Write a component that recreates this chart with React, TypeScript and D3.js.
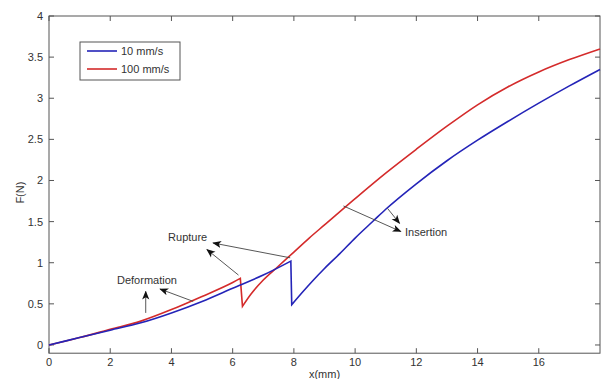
import React from "react";
import * as d3 from "d3";

// 10 mm/s series [x (mm), F (N)]
const slowX = [0, 1, 2, 3, 4, 5, 6, 7, 7.9, 7.93, 8.3, 8.64, 9, 9.5, 10, 10.6, 11, 12, 13, 14, 15, 16, 17, 18];
const slowF = [0, 0.09, 0.18, 0.27, 0.39, 0.53, 0.69, 0.85, 1.02, 0.49, 0.65, 0.79, 0.93, 1.11, 1.3, 1.51, 1.65, 1.96, 2.24, 2.49, 2.72, 2.94, 3.15, 3.35];
// 100 mm/s series
const fastX = [0, 1, 2, 3, 4, 5, 6, 6.25, 6.32, 6.6, 7, 7.5, 8, 8.5, 9, 10, 11, 12, 13, 14, 15, 16, 17, 18];
const fastF = [0, 0.09, 0.19, 0.29, 0.43, 0.59, 0.76, 0.81, 0.47, 0.62, 0.79, 0.96, 1.13, 1.3, 1.46, 1.78, 2.09, 2.38, 2.66, 2.92, 3.14, 3.32, 3.47, 3.6];
// index of first point after rupture drop
const ruptureIdx = [9, 8];

const seriesNames = ["10 mm/s", "100 mm/s"];
const seriesColors = ["#2424b8", "#d42b2b"];

const xTicks = [0, 2, 4, 6, 8, 10, 12, 14, 16];
const yTicks = [0, 0.5, 1, 1.5, 2, 2.5, 3, 3.5, 4];

// annotations in data units
const labels = [
  { text: "Deformation", x: 3.2, y: 0.79, anchor: "middle" },
  { text: "Rupture", x: 4.53, y: 1.31, anchor: "middle" },
  { text: "Insertion", x: 11.63, y: 1.37, anchor: "start" },
];
const arrows = [
  { x1: 3.16, y1: 0.39, x2: 3.16, y2: 0.65 },
  { x1: 4.71, y1: 0.53, x2: 3.63, y2: 0.68 },
  { x1: 6.19, y1: 0.85, x2: 5.16, y2: 1.16 },
  { x1: 7.88, y1: 1.06, x2: 5.36, y2: 1.24 },
  { x1: 9.62, y1: 1.69, x2: 11.49, y2: 1.38 },
  { x1: 11.06, y1: 1.66, x2: 11.45, y2: 1.48 },
];

export default function App() {
  const W = 604, H = 379;
  const x = d3.scaleLinear().domain([0, 18]).range([49, 600]);
  const y = d3.scaleLinear().domain([-0.1, 4]).range([353.2, 16]);
  const line = d3.line<[number, number]>().x((d) => x(d[0])).y((d) => y(d[1])).curve(d3.curveMonotoneX);
  const pathFor = (xs: number[], fs: number[], cut: number) => {
    const pts: [number, number][] = xs.map((v, i) => [v, fs[i]]);
    const a = line(pts.slice(0, cut)) || "";
    const b = (line(pts.slice(cut)) || "").replace(/^M/, "L");
    return a + b;
  };
  const [x0, x1] = x.range();
  const [yb, yt] = y.range();
  const axisColor = "#555";
  const textColor = "#333";
  const font = "'Liberation Sans', Arial, sans-serif";

  return (
    <svg width={W} height={H} style={{ position: "absolute", left: 0, top: 0, background: "#fff" }} fontFamily={font}>
      <defs>
        <marker id="ah" viewBox="0 0 10 10" refX="9" refY="5" markerWidth="9" markerHeight="9" orient="auto" markerUnits="userSpaceOnUse">
          <path d="M0,1 L10,5 L0,9 L2.5,5 Z" fill="#111" />
        </marker>
      </defs>
      <rect x={0} y={0} width={W} height={H} fill="#fff" />
      {/* box */}
      <rect x={x0} y={yt} width={x1 - x0} height={yb - yt} fill="none" stroke={axisColor} strokeWidth={1} />
      {xTicks.map((t) => (
        <g key={"xt" + t}>
          <line x1={x(t)} x2={x(t)} y1={yb} y2={yb - 5} stroke={axisColor} />
          <line x1={x(t)} x2={x(t)} y1={yt} y2={yt + 5} stroke={axisColor} />
          <text x={x(t)} y={yb + 13} textAnchor="middle" fontSize={11} fill={textColor}>{t}</text>
        </g>
      ))}
      {yTicks.map((t) => (
        <g key={"yt" + t}>
          <line x1={x0} x2={x0 + 5} y1={y(t)} y2={y(t)} stroke={axisColor} />
          <line x1={x1} x2={x1 - 5} y1={y(t)} y2={y(t)} stroke={axisColor} />
          <text x={x0 - 6} y={y(t) + 4} textAnchor="end" fontSize={11} fill={textColor}>{t}</text>
        </g>
      ))}
      <text x={(x0 + x1) / 2} y={378} textAnchor="middle" fontSize={11} fill={textColor}>x(mm)</text>
      <text transform={`translate(24,${(yb + yt) / 2 + 8}) rotate(-90)`} textAnchor="middle" fontSize={11} fill={textColor}>F(N)</text>

      {/* curves */}
      <path d={pathFor(fastX, fastF, ruptureIdx[1])} fill="none" stroke={seriesColors[1]} strokeWidth={1.6} />
      <path d={pathFor(slowX, slowF, ruptureIdx[0])} fill="none" stroke={seriesColors[0]} strokeWidth={1.6} />

      {/* annotations */}
      {arrows.map((a, i) => (
        <line key={"a" + i} x1={x(a.x1)} y1={y(a.y1)} x2={x(a.x2)} y2={y(a.y2)} stroke="#444" strokeWidth={0.9} markerEnd="url(#ah)" />
      ))}
      {labels.map((l) => (
        <text key={l.text} x={x(l.x)} y={y(l.y) + 4} textAnchor={l.anchor as any} fontSize={11} fill={textColor}>{l.text}</text>
      ))}

      {/* legend */}
      <rect x={80} y={42} width={100} height={38} fill="#fff" stroke={axisColor} strokeWidth={1} />
      {seriesNames.map((n, i) => (
        <g key={n}>
          <line x1={87} x2={117} y1={51 + i * 18} y2={51 + i * 18} stroke={seriesColors[i]} strokeWidth={1.6} />
          <text x={121} y={55 + i * 18} fontSize={11} fill={textColor}>{n}</text>
        </g>
      ))}
    </svg>
  );
}
